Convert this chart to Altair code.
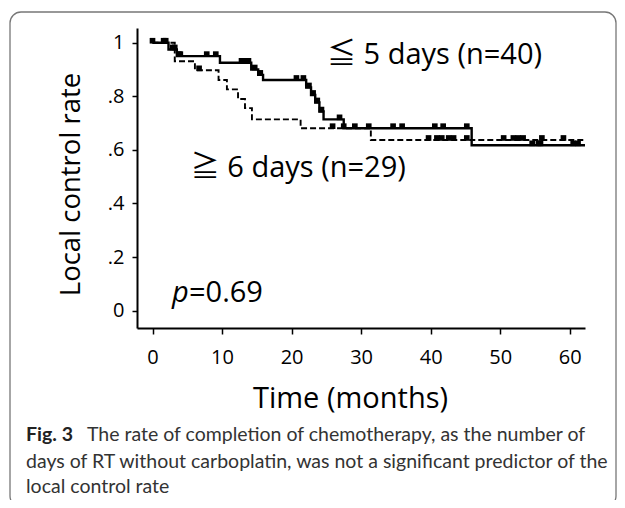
import altair as alt
import pandas as pd

# ---- data ----
solid_time = [0, 2.3, 3.5, 9.7, 14.2, 15.2, 15.9, 22.1, 22.8, 23.4, 24.0, 24.6, 27.5, 45.9, 62.2]
solid_surv = [1.0, 0.975, 0.950, 0.925, 0.900, 0.880, 0.861, 0.833, 0.805, 0.777, 0.743, 0.714, 0.681, 0.617, 0.617]
dashed_time = [0, 3.2, 6.1, 9.5, 10.7, 12.3, 13.3, 14.3, 21.3, 31.4, 62.2]
dashed_surv = [1.0, 0.931, 0.897, 0.861, 0.826, 0.790, 0.756, 0.714, 0.681, 0.637, 0.637]
solid_censor = [0.0, 1.6, 1.9, 2.9, 3.2, 3.8, 4.0, 7.8, 9.1, 12.8, 13.3, 13.8, 14.7, 15.5,
                20.7, 21.7, 22.5, 23.1, 23.7, 24.3, 26.9, 29.1, 31.1, 34.6, 35.9, 40.6,
                41.8, 45.2, 54.6, 55.5, 55.8, 60.5, 61.2]
dashed_censor = [6.7, 25.9, 27.5, 39.7, 40.9, 41.6, 42.6, 43.3, 45.2, 50.5, 51.9, 52.6,
                 53.3, 56.0, 59.1]

x_ticks = [0, 2.5, 5, 7.5, 10, 12.5, 15, 17.5, 20, 22.5, 25, 27.5, 30, 32.5, 35, 37.5,
           40, 42.5, 45, 47.5, 50, 52.5, 55, 57.5, 60]
y_ticks = [0, 0.1, 0.2, 0.3, 0.4, 0.5, 0.6, 0.7, 0.8, 0.9, 1.0]

label_texts = ["\u2266 5 days (n=40)", "\u2267 6 days (n=29)"]
label_x = [25.1, 5.5]
label_y = [0.954, 0.532]

caption_bold = "Fig. 3"
caption_lines = [
    "The rate of completion of chemotherapy, as the number of",
    "days of RT without carboplatin, was not a significant predictor of the",
    "local control rate",
]

FONT = "'Open Sans', 'Noto Sans CJK JP', sans-serif"
CAP_FONT = "Lato, sans-serif"


def step_value(times, survs, t):
    v = survs[0]
    for tt, s in zip(times, survs):
        if tt <= t:
            v = s
    return v


curves = pd.DataFrame(
    [{"time": t, "surv": s, "group": "<=5"} for t, s in zip(solid_time, solid_surv)]
    + [{"time": t, "surv": s, "group": ">=6"} for t, s in zip(dashed_time, dashed_surv)]
)
cens = pd.DataFrame(
    [{"time": t, "surv": step_value(solid_time, solid_surv, t)} for t in solid_censor]
    + [{"time": t, "surv": step_value(dashed_time, dashed_surv, t)} for t in dashed_censor]
)

x_scale = alt.Scale(domain=[-2.23, 62.2], nice=False, zero=False)
y_scale = alt.Scale(domain=[-0.065, 1.055], nice=False, zero=False)

x_axis = alt.Axis(
    values=x_ticks,
    labelExpr="datum.value % 10 === 0 ? datum.label : ''",
    tickSize={"condition": {"test": "datum.value % 10 === 0", "value": 6}, "value": 3},
    title="Time (months)",
    titleX=213, titleY=70, titleAlign="center", titleBaseline="middle",
    titleFont=FONT, titleFontSize=29, titleFontWeight="normal", titleColor="black",
    labelFont=FONT, labelFontSize=20, labelColor="black", labelPadding=13,
    domainColor="black", domainWidth=2, tickColor="black", tickWidth=1.5,
    grid=False, labelFlush=False, labelOverlap=False,
)
y_axis = alt.Axis(
    values=y_ticks,
    labelExpr="round(datum.value*10) % 2 === 0 ? (datum.value === 0 ? '0' : (datum.value >= 0.99 ? '1' : replace(format(datum.value, '.1f'), '0.', '.'))) : ''",
    tickSize={"condition": {"test": "round(datum.value*10) % 2 === 0", "value": 5}, "value": 3},
    title="Local control rate",
    titleX=-66, titleY=156, titleAngle=270, titleAlign="center", titleBaseline="middle",
    titleFont=FONT, titleFontSize=27.5, titleFontWeight="normal", titleColor="black",
    labelFont=FONT, labelFontSize=20, labelColor="black", labelPadding=8,
    domainColor="black", domainWidth=2, tickColor="black", tickWidth=1.5,
    grid=False, labelFlush=False, labelOverlap=False,
)

solid = alt.Chart(curves).transform_filter(alt.datum.group == "<=5").mark_line(
    interpolate="step-after", color="black", strokeWidth=2.4
).encode(
    x=alt.X("time:Q", scale=x_scale, axis=x_axis),
    y=alt.Y("surv:Q", scale=y_scale, axis=y_axis),
)
dashed = alt.Chart(curves).transform_filter(alt.datum.group == ">=6").mark_line(
    interpolate="step-after", color="black", strokeWidth=1.9, strokeDash=[6, 3]
).encode(
    x=alt.X("time:Q", scale=x_scale),
    y=alt.Y("surv:Q", scale=y_scale),
)
marks = alt.Chart(cens).mark_point(
    shape="square", filled=True, color="black", size=32, opacity=1, yOffset=-2
).encode(
    x=alt.X("time:Q", scale=x_scale),
    y=alt.Y("surv:Q", scale=y_scale),
)

labels = alt.Chart(pd.DataFrame({"x": label_x, "y": label_y, "t": label_texts})).mark_text(
    align="left", baseline="middle", font=FONT, fontSize=29, color="black"
).encode(
    x=alt.X("x:Q", scale=x_scale),
    y=alt.Y("y:Q", scale=y_scale),
    text="t:N",
)

pval = pd.DataFrame({"x": [2.8], "y": [0.066]})
p_italic = alt.Chart(pval).mark_text(
    align="left", baseline="middle", font=FONT, fontSize=29, fontStyle="italic", color="black", text="p"
).encode(x=alt.X("x:Q", scale=x_scale), y=alt.Y("y:Q", scale=y_scale))
p_rest = alt.Chart(pval).mark_text(
    align="left", baseline="middle", font=FONT, fontSize=29, color="black", text="=0.69", dx=17
).encode(x=alt.X("x:Q", scale=x_scale), y=alt.Y("y:Q", scale=y_scale))

dummy = pd.DataFrame({"a": [0]})
border = alt.Chart(dummy).mark_rect(
    fillOpacity=0, stroke="#777777", strokeWidth=1.3, cornerRadius=11
).encode(
    x=alt.value(-127), x2=alt.value(479), y=alt.value(-16), y2=alt.value(479)
)
cap_bold = alt.Chart(dummy).mark_text(
    align="left", baseline="middle", font=CAP_FONT, fontSize=19.5, fontWeight="bold",
    color="#222222", text=caption_bold
).encode(x=alt.value(-111), y=alt.value(407))
cap1 = alt.Chart(dummy).mark_text(
    align="left", baseline="middle", font=CAP_FONT, fontSize=19.5, color="#333333",
    text=caption_lines[0]
).encode(x=alt.value(-50), y=alt.value(407))
cap2 = alt.Chart(dummy).mark_text(
    align="left", baseline="middle", font=CAP_FONT, fontSize=19.5, color="#333333",
    text=caption_lines[1]
).encode(x=alt.value(-111), y=alt.value(433.7))
cap3 = alt.Chart(dummy).mark_text(
    align="left", baseline="middle", font=CAP_FONT, fontSize=19.5, color="#333333",
    text=caption_lines[2]
).encode(x=alt.value(-111), y=alt.value(458.7))

chart = alt.layer(
    border, dashed, solid, marks, labels, p_italic, p_rest, cap_bold, cap1, cap2, cap3
).properties(
    width=448, height=300,
    padding={"left": 129, "top": 20, "right": 32, "bottom": 172},
    autosize=alt.AutoSizeParams(type="none"),
    background="white",
).configure_view(stroke=None)

chart.save("out.html", embed_options={"renderer": "svg", "actions": False})
